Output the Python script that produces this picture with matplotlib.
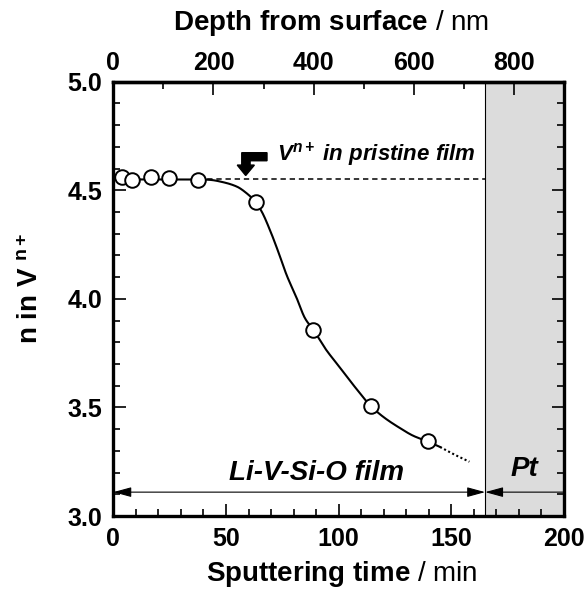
import numpy as np
import matplotlib
matplotlib.use("Agg")
import matplotlib.pyplot as plt
from matplotlib.ticker import MultipleLocator
from matplotlib.patches import Polygon, FancyArrowPatch

plt.rcParams["font.family"] = ["Liberation Sans", "DejaVu Sans"]
plt.rcParams["mathtext.fontset"] = "custom"
plt.rcParams["mathtext.rm"] = "Liberation Sans"
plt.rcParams["mathtext.bf"] = "Liberation Sans:bold"
plt.rcParams["mathtext.it"] = "Liberation Sans:italic"
plt.rcParams["mathtext.bfit"] = "Liberation Sans:italic:bold"

# measured points: sputtering time (min) vs valence n
time_min = [3.7, 8.2, 16.6, 24.9, 37.7, 63.2, 88.8, 114.2, 139.8]
valence = [4.56, 4.547, 4.56, 4.556, 4.547, 4.447, 3.857, 3.507, 3.345]

# guide curve (solid part and dotted tail)
guide_t = [0, 38.6, 42.9, 48.8, 54.8, 59.2, 63.2, 65.9, 69.5, 73.2, 76.9, 81.4,
           85.1, 88.8, 94, 100.6, 107, 114.2, 120, 127.2, 133, 139.8, 145]
guide_n = [4.55, 4.55, 4.548, 4.537, 4.517, 4.486, 4.445, 4.401, 4.317, 4.217,
           4.110, 4.003, 3.910, 3.857, 3.772, 3.683, 3.597, 3.507, 3.455, 3.405,
           3.370, 3.342, 3.318]
tail_t = [145, 151, 158]
tail_n = [3.318, 3.285, 3.25]

pristine_n = 4.55
film_end = 165        # min, Li-V-Si-O / Pt boundary
rate = 4.5            # nm per min
arrow_n = 3.11


def pchip(x, y, xs):
    """ Monotone cubic through the guide knots (Fritsch-Carlson). """
    x = np.asarray(x, float)
    y = np.asarray(y, float)
    h = np.diff(x)
    d = np.diff(y) / h
    m = np.zeros_like(y)
    m[0], m[-1] = d[0], d[-1]
    for k in range(1, len(x) - 1):
        if d[k - 1] * d[k] > 0:
            w1 = 2 * h[k] + h[k - 1]
            w2 = h[k] + 2 * h[k - 1]
            m[k] = (w1 + w2) / (w1 / d[k - 1] + w2 / d[k])
    idx = np.clip(np.searchsorted(x, xs) - 1, 0, len(h) - 1)
    s = (xs - x[idx]) / h[idx]
    h00 = 2 * s**3 - 3 * s**2 + 1
    h10 = s**3 - 2 * s**2 + s
    h01 = -2 * s**3 + 3 * s**2
    h11 = s**3 - s**2
    return h00 * y[idx] + h10 * h[idx] * m[idx] + h01 * y[idx + 1] + h11 * h[idx] * m[idx + 1]


fig = plt.figure(figsize=(5.88, 5.89), dpi=100)
ax = fig.add_axes([0.1927, 0.1239, 0.7665, 0.7374])

ax.axvspan(film_end, 200, color="#dcdcdc", zorder=0, lw=0)
ax.axvline(film_end, color="black", lw=0.8, zorder=1)

ax.plot([time_min[4], film_end], [pristine_n, pristine_n], ls=(0, (3.5, 2.5)),
        color="black", lw=1.1, zorder=2)

ts = np.linspace(guide_t[0], guide_t[-1], 600)
ax.plot(ts, pchip(guide_t, guide_n, ts), color="black", lw=1.5, zorder=3)
ts2 = np.linspace(tail_t[0], tail_t[-1], 50)
ax.plot(ts2, pchip(tail_t, tail_n, ts2), color="black", lw=1.5, ls=(0, (1, 1.2)), zorder=3)

ax.plot(time_min, valence, "o", ms=10.5, mfc="white", mec="black", mew=1.4,
        zorder=4, clip_on=False)

# bent arrow marking the pristine value
arrow_shape = [(68.2, 4.673), (57.0, 4.673), (57.0, 4.616), (55.0, 4.616),
               (58.75, 4.568), (62.6, 4.616), (60.7, 4.616), (60.7, 4.636),
               (68.2, 4.636)]
ax.add_patch(Polygon(arrow_shape, closed=True, color="black", zorder=5))
ax.text(72.5, 4.636, r"$\mathbfit{V^{n+}\ in\ pristine\ film}$", fontsize=16,
        ha="left", va="baseline")

# range arrows
ax.add_patch(FancyArrowPatch((0, arrow_n), (film_end, arrow_n),
                             arrowstyle="<|-|>,head_length=1.1,head_width=0.3",
                             mutation_scale=10, color="black", lw=0.8,
                             shrinkA=0, shrinkB=0, zorder=3))
ax.add_patch(FancyArrowPatch((200, arrow_n), (film_end, arrow_n),
                             arrowstyle="-|>,head_length=1.1,head_width=0.3",
                             mutation_scale=10, color="black", lw=0.8,
                             shrinkA=0, shrinkB=0, zorder=3))
ax.text(90, 3.2, "Li-V-Si-O film", fontsize=20, fontweight="bold",
        style="italic", ha="center", va="center")
ax.text(182.5, 3.215, "Pt", fontsize=20, fontweight="bold",
        style="italic", ha="center", va="center")

ax.set_xlim(0, 200)
ax.set_ylim(3.0, 5.0)
ax.xaxis.set_major_locator(MultipleLocator(50))
ax.xaxis.set_minor_locator(MultipleLocator(10))
ax.yaxis.set_major_locator(MultipleLocator(0.5))
ax.yaxis.set_minor_locator(MultipleLocator(0.1))
ax.yaxis.set_major_formatter(plt.FormatStrFormatter("%.1f"))
ax.tick_params(which="both", direction="in", right=True, top=False, width=1.2)
ax.tick_params(which="major", length=9, labelsize=18, pad=8)
ax.tick_params(which="minor", length=5)
for lab in ax.get_xticklabels() + ax.get_yticklabels():
    lab.set_fontweight("bold")
for sp in ax.spines.values():
    sp.set_linewidth(2.4)

secax = ax.secondary_xaxis("top", functions=(lambda t: t * rate, lambda d: d / rate))
secax.set_xticks([0, 200, 400, 600, 800])
secax.xaxis.set_minor_locator(MultipleLocator(100))
secax.tick_params(which="both", direction="in", width=1.2)
secax.tick_params(which="major", length=9, labelsize=18, pad=5)
secax.tick_params(which="minor", length=5)
for lab in secax.get_xticklabels():
    lab.set_fontweight("bold")
secax.spines["top"].set_linewidth(2.4)

ax.set_xlabel(r"$\mathbf{Sputtering\ time}$ / min", fontsize=20)
ax.xaxis.set_label_coords(0.506, -0.1)
fig.text(331 / 588, 1 - 30 / 589, r"$\mathbf{Depth\ from\ surface}$ / nm",
         fontsize=20, ha="center", va="baseline")
ax.set_ylabel(r"$\mathbf{n\ in\ V}$ $^{\mathbf{n+}}$", fontsize=20)
ax.yaxis.set_label_coords(-0.153, 0.525)

fig.savefig("out.png", dpi=100)
